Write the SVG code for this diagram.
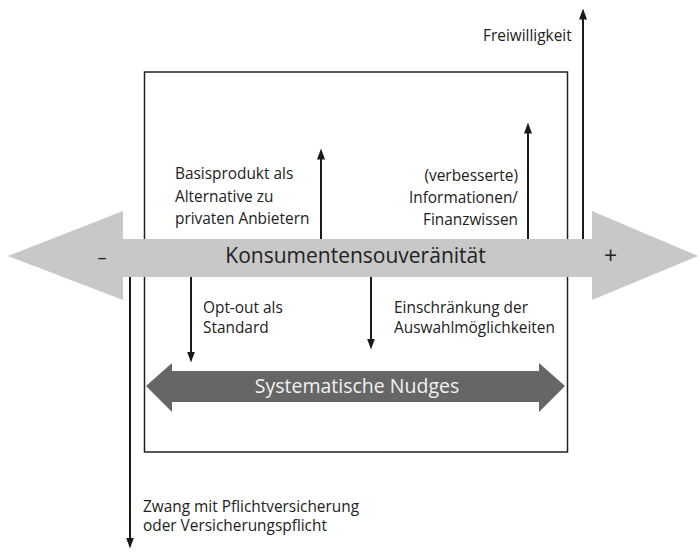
<svg xmlns="http://www.w3.org/2000/svg" width="699" height="553" viewBox="0 0 699 553">
<style>
text{font-family:"Open Sans","Liberation Sans",sans-serif;fill:#222}
.lbl{font-size:15.4px}
.ln{stroke:#1a1a1a;stroke-width:2;fill:none}
</style>
<defs>
<marker id="ah" markerUnits="userSpaceOnUse" markerWidth="11" markerHeight="9" viewBox="0 0 11 9" refX="0.5" refY="4.5" orient="auto">
<path d="M0,0.5 L11,4.5 L0,8.5 Z" fill="#1a1a1a"/>
</marker>
</defs>
<rect width="699" height="553" fill="#fff"/>
<g id="box"><rect x="144.5" y="72" width="423" height="380" fill="none" stroke="#222" stroke-width="1.5"/></g>
<g id="konsumentensouveraenitaet">
<polygon points="8,256 123,211 123,239 592,239 592,211 698,256 592,300 592,277 123,277 123,300" fill="#c8c8c8"/>
<text x="355.5" y="263" font-size="21" text-anchor="middle" fill="#2a2a2a">Konsumentensouveränität</text>
<text x="102" y="264" font-size="18" text-anchor="middle">–</text>
<text x="610.5" y="264" font-size="23" text-anchor="middle">+</text>
</g>
<g id="nudges">
<polygon points="146,386 172,363 172,371 539,371 539,363 565,386 539,412 539,402 172,402 172,412" fill="#666"/>
<text x="357" y="393" font-size="19.5" text-anchor="middle" style="fill:#f2f2f2">Systematische Nudges</text>
</g>
<g id="connectors">
<line class="ln" x1="583" y1="239" x2="583" y2="19" marker-end="url(#ah)"/>
<line class="ln" x1="528" y1="239" x2="528" y2="133" marker-end="url(#ah)"/>
<line class="ln" x1="321" y1="239" x2="321" y2="159" marker-end="url(#ah)"/>
<line class="ln" x1="191" y1="277" x2="191" y2="352" marker-end="url(#ah)"/>
<line class="ln" x1="371" y1="277" x2="371" y2="339" marker-end="url(#ah)"/>
<line class="ln" x1="130" y1="277" x2="130" y2="538" marker-end="url(#ah)"/>
</g>
<g id="freiwilligkeit"><text class="lbl" x="483" y="41">Freiwilligkeit</text></g>
<g id="basisprodukt">
<text class="lbl" x="175" y="179">Basisprodukt als</text>
<text class="lbl" x="175" y="202">Alternative zu</text>
<text class="lbl" x="175" y="224">privaten Anbietern</text>
</g>
<g id="informationen">
<text class="lbl" x="518" y="181" text-anchor="end">(verbesserte)</text>
<text class="lbl" x="518" y="203" text-anchor="end">Informationen/</text>
<text class="lbl" x="518" y="225" text-anchor="end">Finanzwissen</text>
</g>
<g id="optout">
<text class="lbl" x="203" y="313">Opt-out als</text>
<text class="lbl" x="203" y="333">Standard</text>
</g>
<g id="einschraenkung">
<text class="lbl" x="394" y="313">Einschränkung der</text>
<text class="lbl" x="394" y="333">Auswahlmöglichkeiten</text>
</g>
<g id="zwang">
<text class="lbl" x="143" y="512">Zwang mit Pflichtversicherung</text>
<text class="lbl" x="143" y="531">oder Versicherungspflicht</text>
</g>
</svg>
